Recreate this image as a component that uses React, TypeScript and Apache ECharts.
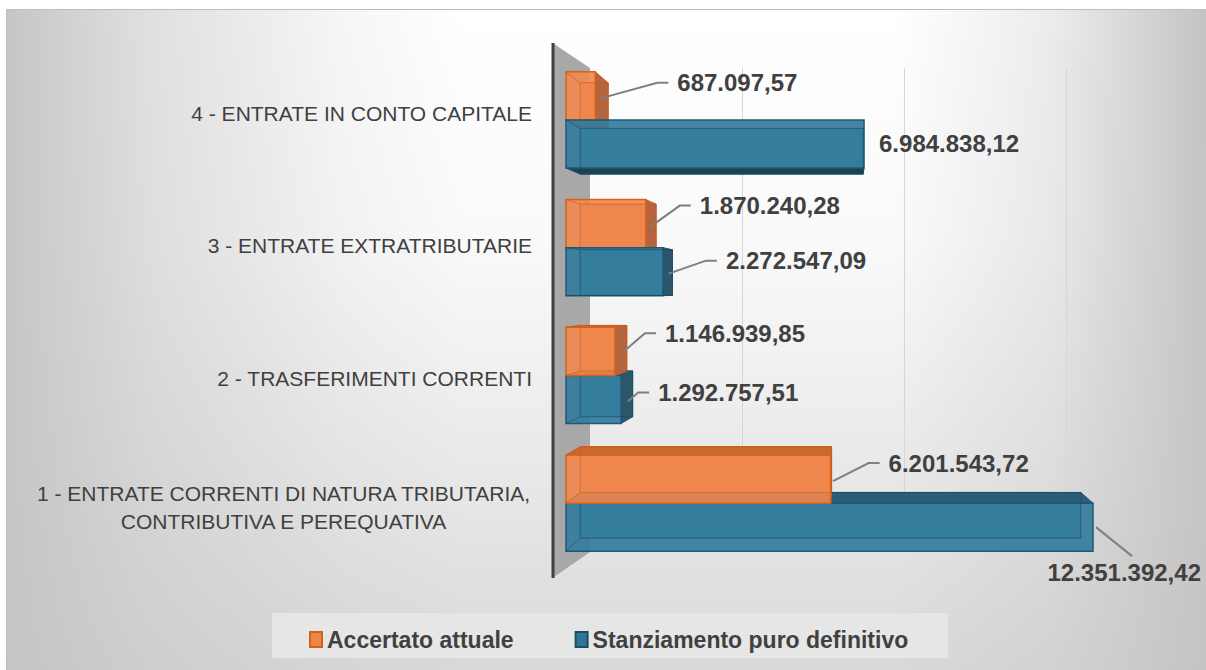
import React, { useEffect, useRef } from 'react';
import * as echarts from 'echarts';

// ---------- data ----------
const categories = [
  '1 - ENTRATE CORRENTI DI NATURA TRIBUTARIA,\nCONTRIBUTIVA E PEREQUATIVA',
  '2 - TRASFERIMENTI CORRENTI',
  '3 - ENTRATE EXTRATRIBUTARIE',
  '4 - ENTRATE IN CONTO CAPITALE',
];
const seriesNames = ['Accertato attuale', 'Stanziamento puro definitivo'];
const accertato = [6201543.72, 1146939.85, 1870240.28, 687097.57];
const stanziamento = [12351392.42, 1292757.51, 2272547.09, 6984838.12];

// ---------- label layout (offset of value label from bar end) ----------
const accLabelLayout: [number, number, string][] = [
  [58, -16, 'elbow'],
  [50, -18, 'elbow'],
  [54, -18, 'elbow'],
  [82, -13, 'elbow'],
];
const staLabelLayout: [number, number, string][] = [
  [0, 0, 'below'],
  [37, -7, 'elbow'],
  [63, -11, 'elbow'],
  [15, 0, 'plain'],
];
// perspective shift of the category labels (px, + = down)
const catLabelShift = [7, 3, -2, -6];

// perspective (vanishing point & depth factor)
const VX = 850;
const VY = 290;
const K = 0.95;

const palettes: Record<string, any> = {
  acc: {
    front: 'rgba(239,136,78,0.9)',
    edge: '#D5611C',
    ghost: 'rgba(200,85,20,0.55)',
    back: '#E57C3E',
    side: '#B26640',
    top: '#C9692F',
    bottom: '#B85A26',
  },
  sta: {
    front: 'rgba(52,124,156,0.92)',
    edge: '#1C5976',
    ghost: 'rgba(20,70,95,0.5)',
    back: '#4388A6',
    side: '#2D5669',
    top: '#2B5E76',
    bottom: '#1E4050',
  },
};

function fmt(v: number): string {
  const [i, d] = v.toFixed(2).split('.');
  return i.replace(/\B(?=(\d{3})+(?!\d))/g, '.') + ',' + d;
}

const FONT_FAMILY = '"Liberation Sans", Arial, sans-serif';
const LABEL_FONT = 'bold 24px "Liberation Sans", Arial, sans-serif';
const LABEL_COLOR = '#404040';

function makeRender(kind: 'acc' | 'sta', layout: [number, number, string][]) {
  const pal = palettes[kind];
  return (params: any, api: any) => {
    const cat = api.value(0);
    const val = api.value(1);
    const p1 = api.coord([val, cat]);
    const p0 = api.coord([0, cat]);
    const x0 = p0[0];
    const x1 = p1[0];
    const yc = p1[1];
    const band = api.size([0, 1])[1];
    const bh = band * 0.376;
    const y0 = kind === 'acc' ? yc - bh : yc;
    const y1 = kind === 'acc' ? yc : yc + bh;
    const P = (x: number, y: number) => [VX + (x - VX) * K, VY + (y - VY) * K];
    const ftl = [x0, y0], ftr = [x1, y0], fbr = [x1, y1], fbl = [x0, y1];
    const btl = P(x0, y0), btr = P(x1, y0), bbr = P(x1, y1), bbl = P(x0, y1);
    const below = yc > VY;
    const base = (kind === 'acc') === below ? 40 : 10;
    const ch: any[] = [];
    ch.push({ type: 'polygon', z2: base, shape: { points: [btl, btr, bbr, bbl] }, style: { fill: pal.back, stroke: pal.edge, lineWidth: 1 } });
    if (x1 < VX) {
      ch.push({ type: 'polygon', z2: base + 1, shape: { points: [ftr, btr, bbr, fbr] }, style: { fill: pal.side, stroke: pal.edge, lineWidth: 1 } });
    }
    if (y1 < VY) {
      ch.push({ type: 'polygon', z2: base + 1, shape: { points: [fbl, fbr, bbr, bbl] }, style: { fill: pal.bottom, stroke: pal.edge, lineWidth: 1 } });
    }
    if (y0 > VY) {
      ch.push({ type: 'polygon', z2: base + 1, shape: { points: [ftl, ftr, btr, btl] }, style: { fill: pal.top, stroke: pal.edge, lineWidth: 1 } });
    }
    ch.push({ type: 'rect', z2: base + 2, shape: { x: x0, y: y0, width: x1 - x0, height: y1 - y0 }, style: { fill: pal.front, stroke: pal.edge, lineWidth: 1.5 } });
    ch.push({ type: 'polygon', z2: base + 3, shape: { points: [btl, btr, bbr, bbl] }, style: { fill: 'none', stroke: pal.ghost, lineWidth: 1 } });
    ch.push({ type: 'line', z2: base + 3, shape: { x1: ftl[0], y1: ftl[1], x2: btl[0], y2: btl[1] }, style: { stroke: pal.ghost, lineWidth: 1 } });
    ch.push({ type: 'line', z2: base + 3, shape: { x1: fbl[0], y1: fbl[1], x2: bbl[0], y2: bbl[1] }, style: { stroke: pal.ghost, lineWidth: 1 } });

    // value label
    const lay = layout[params.dataIndex];
    const ym = (y0 + y1) / 2;
    const text = fmt(val);
    const sideW = Math.max(0, (VX - x1) * (1 - K));
    if (lay[2] === 'plain') {
      ch.push({ type: 'text', z2: 100, style: { text, x: x1 + lay[0], y: ym + lay[1], font: LABEL_FONT, fill: LABEL_COLOR, align: 'left', verticalAlign: 'middle', textAlign: 'left', textVerticalAlign: 'middle' } });
    } else if (lay[2] === 'elbow') {
      const ax = x1 + sideW * 0.4 + 2;
      const ay = ym + 2;
      const tx = x1 + lay[0];
      const ty = ym + lay[1];
      ch.push({ type: 'polyline', z2: 99, shape: { points: [[ax, ay], [tx - 20, ty], [tx - 9, ty]] }, style: { stroke: '#7f7f7f', lineWidth: 2, fill: 'none' } });
      ch.push({ type: 'text', z2: 100, style: { text, x: tx, y: ty, font: LABEL_FONT, fill: LABEL_COLOR, align: 'left', verticalAlign: 'middle', textAlign: 'left', textVerticalAlign: 'middle' } });
    } else {
      ch.push({ type: 'polyline', z2: 99, shape: { points: [[x1 + 3, ym], [x1 + 39, ym + 29]] }, style: { stroke: '#7f7f7f', lineWidth: 2, fill: 'none' } });
      ch.push({ type: 'text', z2: 100, style: { text, x: x1 + 108, y: ym + 45, font: LABEL_FONT, fill: LABEL_COLOR, align: 'right', verticalAlign: 'middle', textAlign: 'right', textVerticalAlign: 'middle' } });
    }
    return { type: 'group', children: ch };
  };
}

function buildRich() {
  const rich: Record<string, any> = {
    c: { fontSize: 21, color: '#404040', fontFamily: FONT_FAMILY, width: 497, align: 'center' },
    sp: { fontSize: 4, lineHeight: 7, height: 7, color: 'rgba(0,0,0,0)' },
    sp2: { fontSize: 4, lineHeight: 9, height: 9, color: 'rgba(0,0,0,0)' },
  };
  catLabelShift.forEach((s, i) => {
    const pad = s >= 0 ? [2 * s, 0, 0, 0] : [0, 0, -2 * s, 0];
    rich['r' + i] = { fontSize: 21, lineHeight: 28, color: '#404040', fontFamily: FONT_FAMILY, padding: pad };
  });
  return rich;
}

function buildOption() {
  return {
    animation: false,
    backgroundColor: '#ffffff',
    graphic: [
      {
        type: 'rect', z: -10, silent: true,
        shape: { x: 6.5, y: 9.5, width: 1200, height: 661 },
        style: {
          fill: new echarts.graphic.LinearGradient(0, 0, 1, 0, [
            { offset: 0, color: '#c6c6c6' },
            { offset: 0.12, color: '#e0e0e0' },
            { offset: 0.28, color: '#f6f6f6' },
            { offset: 0.38, color: '#ffffff' },
            { offset: 0.74, color: '#ffffff' },
            { offset: 0.87, color: '#ececec' },
            { offset: 1, color: '#c4c4c4' },
          ]),
          stroke: '#bdbdbd', lineWidth: 1,
        },
      },
      {
        type: 'rect', z: -9, silent: true,
        shape: { x: 7, y: 10, width: 1199, height: 660 },
        style: {
          fill: new echarts.graphic.LinearGradient(0, 0, 0, 1, [
            { offset: 0, color: 'rgba(200,200,200,0)' },
            { offset: 0.35, color: 'rgba(200,200,200,0.1)' },
            { offset: 1, color: 'rgba(196,196,196,0.65)' },
          ]),
        },
      },
      {
        type: 'rect', z: -8, silent: true,
        shape: { x: 272, y: 613, width: 676, height: 45 },
        style: { fill: '#e6e6e6' },
      },
      {
        type: 'polygon', z: 1, silent: true,
        shape: { points: [[554, 44], [590, 68], [590, 552], [554, 577]] },
        style: { fill: '#a8a8a8' },
      },
      {
        type: 'line', z: 1, silent: true,
        shape: { x1: 553, y1: 43, x2: 553, y2: 578 },
        style: { stroke: '#404040', lineWidth: 3 },
      },
    ],
    legend: {
      left: 304,
      top: 623,
      icon: 'rect',
      itemWidth: 12,
      itemHeight: 15,
      itemGap: 61,
      textStyle: { color: '#404040', fontSize: 23, fontWeight: 'bold', fontFamily: FONT_FAMILY },
      data: [
        { name: seriesNames[0], itemStyle: { color: '#EE8549', borderColor: '#D2601A', borderWidth: 2 } },
        { name: seriesNames[1], itemStyle: { color: '#2F7594', borderColor: '#1A4E66', borderWidth: 2 } },
      ],
    },
    grid: [
      { left: 566, right: 0, top: 56, bottom: 103 },
      { left: 580.2, right: 17.8, top: 67.7, bottom: 116.8 },
    ],
    xAxis: [
      { gridIndex: 0, type: 'value', min: 0, max: 15000000, show: false },
      {
        gridIndex: 1, type: 'value', min: 0, max: 15000000, interval: 4000000,
        axisLine: { show: false }, axisTick: { show: false }, axisLabel: { show: false },
        splitLine: { show: true, showMinLine: false, showMaxLine: false, lineStyle: { color: '#d6d6d6', width: 1 } },
      },
    ],
    yAxis: [
      {
        gridIndex: 0, type: 'category', data: categories, offset: 14,
        axisLine: { show: false }, axisTick: { show: false },
        axisLabel: {
          margin: 20,
          color: '#404040',
          fontSize: 21,
          fontFamily: FONT_FAMILY,
          formatter: (v: string, idx: number) => {
            if (v.includes('\n')) {
              const parts = v.split('\n');
              return '{sp2| }\n' + parts.map((s) => `{c|${s}}`).join('\n{sp| }\n');
            }
            return `{r${idx}|${v}}`;
          },
          rich: buildRich(),
        },
      },
      { gridIndex: 1, type: 'value', show: false },
    ],
    series: [
      {
        type: 'custom', name: seriesNames[0], xAxisIndex: 0, yAxisIndex: 0,
        renderItem: makeRender('acc', accLabelLayout),
        data: accertato.map((v, i) => [i, v]),
        encode: { x: 1, y: 0 },
        itemStyle: { color: '#EE8549' },
      },
      {
        type: 'custom', name: seriesNames[1], xAxisIndex: 0, yAxisIndex: 0,
        renderItem: makeRender('sta', staLabelLayout),
        data: stanziamento.map((v, i) => [i, v]),
        encode: { x: 1, y: 0 },
        itemStyle: { color: '#2F7594' },
      },
    ],
  };
}

export default function App() {
  const ref = useRef<HTMLDivElement>(null);
  useEffect(() => {
    document.body.style.margin = '0';
    const chart = echarts.init(ref.current!, null, { renderer: 'svg' });
    chart.setOption(buildOption() as any);
    return () => chart.dispose();
  }, []);
  return <div ref={ref} style={{ width: 1206, height: 670 }} />;
}
